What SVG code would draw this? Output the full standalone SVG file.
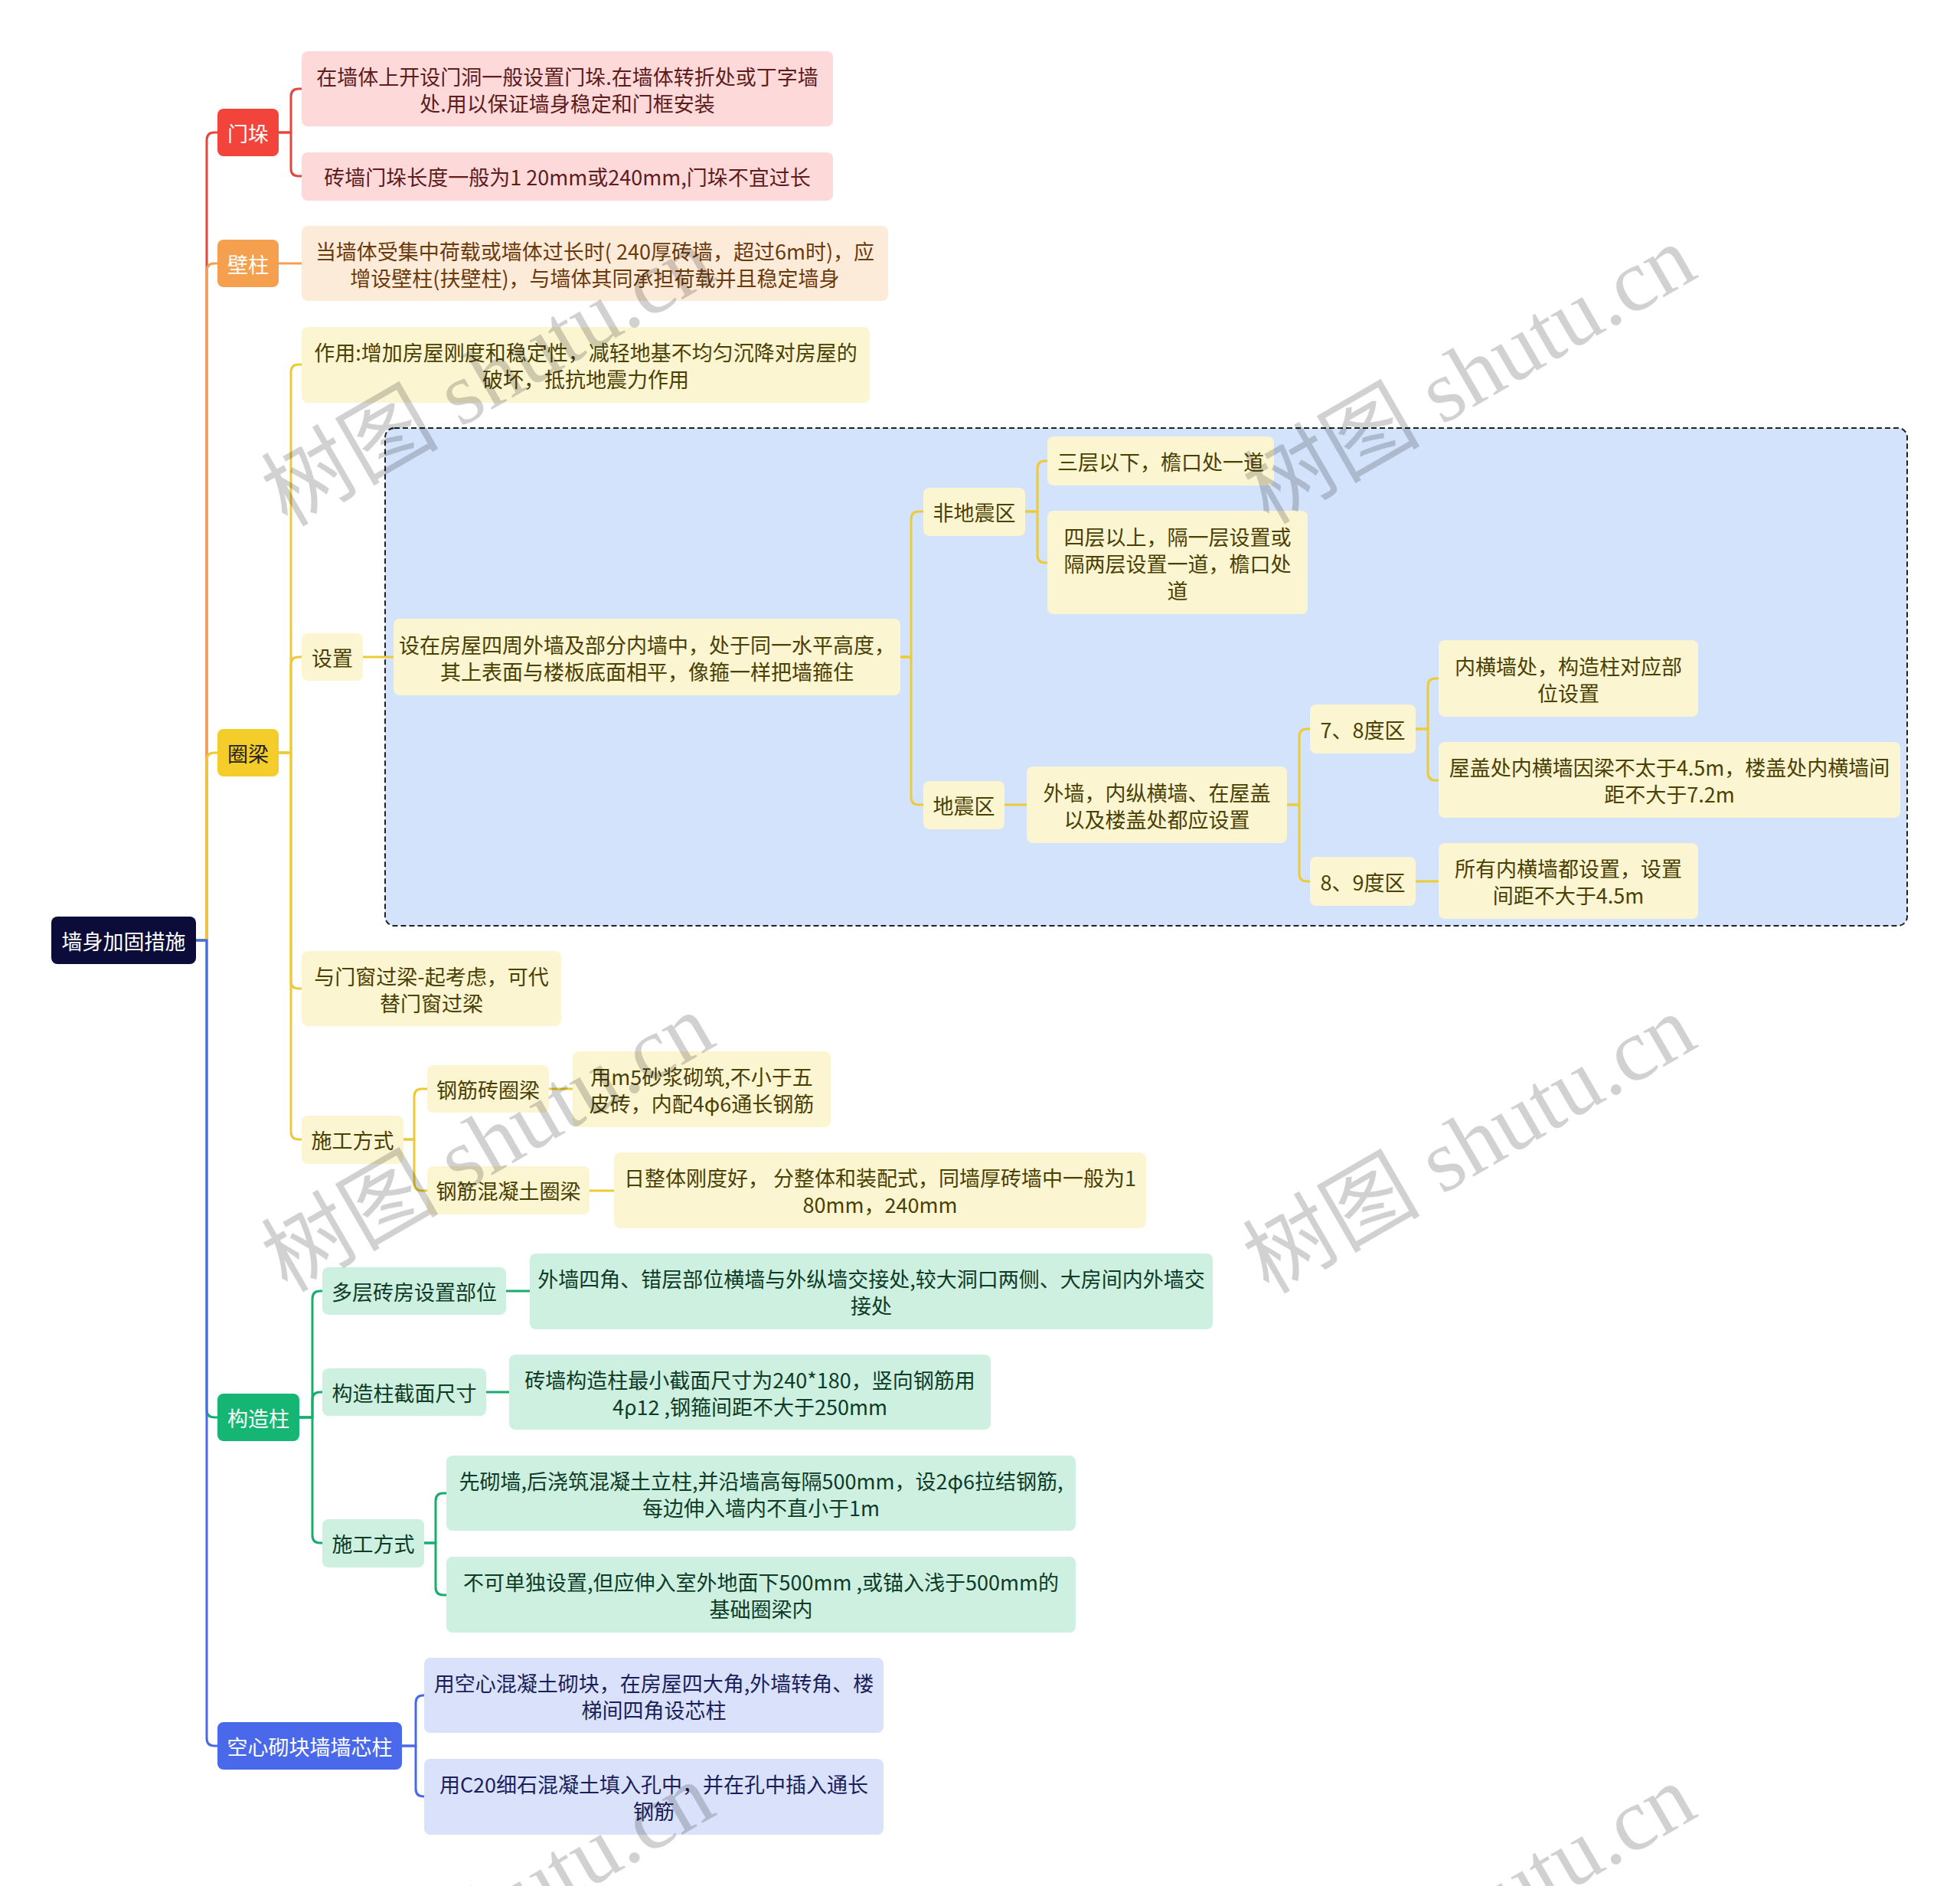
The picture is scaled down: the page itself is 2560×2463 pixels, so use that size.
<svg xmlns="http://www.w3.org/2000/svg" width="2560" height="2463" viewBox="0 0 2560 2463">
<style>
.t{font-family:"Noto Sans CJK SC","Liberation Sans",sans-serif;font-size:27px;text-anchor:middle;dominant-baseline:central}
.w{fill:#ffffff}
.tr{fill:#5e1c1c}.to{fill:#6b3a0c}.ty{fill:#4a4000}.tg{fill:#0e3b27}.tb{fill:#1a1e5c}
.fr{fill:#fdd9d9}.fo{fill:#fdebd9}.fy{fill:#fcf5d2}.fg{fill:#cdf0e0}.fb{fill:#dae2fb}
.c{fill:none;stroke-width:3;stroke-linejoin:round}
.cr{stroke:#e6463d}.co{stroke:#f2a04e}.cy{stroke:#eccb36}.cg{stroke:#17ad6c}.cb{stroke:#4a68ea}
.wm{font-size:116px;fill:#000;fill-opacity:0.18}
</style>
<rect x="0" y="0" width="2560" height="2463" fill="#ffffff"/>
<rect id="container" x="503" y="559" width="1988" height="650" rx="12" fill="#d4e3fc" stroke="#222" stroke-width="2" stroke-dasharray="7 4"/>
<g id="connectors">
<path class="c cr" d="M256 1228 H270 V183 Q270 173 280 173 H284"/>
<path class="c co" d="M256 1228 H270 V354 Q270 344 280 344 H284"/>
<path class="c cy" d="M256 1228 H270 V993 Q270 983 280 983 H284"/>
<path class="c cg" d="M256 1228 H270 V1841 Q270 1851 280 1851 H284"/>
<path class="c cb" d="M256 1228 H270 V2270 Q270 2280 280 2280 H284"/>
<path class="c cr" d="M364 173 H380 V126 Q380 116 390 116 H394"/>
<path class="c cr" d="M364 173 H380 V220 Q380 230 390 230 H394"/>
<path class="c co" d="M364 344 H394"/>
<path class="c cy" d="M364 983 H380 V486 Q380 476 390 476 H394"/>
<path class="c cy" d="M364 983 H380 V868 Q380 858 390 858 H394"/>
<path class="c cy" d="M364 983 H380 V1281 Q380 1291 390 1291 H394"/>
<path class="c cy" d="M364 983 H380 V1478 Q380 1488 390 1488 H394"/>
<path class="c cy" d="M474 858 H514"/>
<path class="c cy" d="M1176 858 H1190 V678 Q1190 668 1200 668 H1206"/>
<path class="c cy" d="M1176 858 H1190 V1041 Q1190 1051 1200 1051 H1206"/>
<path class="c cy" d="M1339 668 H1355 V612 Q1355 602 1365 602 H1368"/>
<path class="c cy" d="M1339 668 H1355 V725 Q1355 735 1365 735 H1368"/>
<path class="c cy" d="M1312 1051 H1341"/>
<path class="c cy" d="M1681 1051 H1697 V962 Q1697 952 1707 952 H1711"/>
<path class="c cy" d="M1681 1051 H1697 V1141 Q1697 1151 1707 1151 H1711"/>
<path class="c cy" d="M1849 952 H1865 V896 Q1865 886 1875 886 H1879"/>
<path class="c cy" d="M1849 952 H1865 V1009 Q1865 1019 1875 1019 H1879"/>
<path class="c cy" d="M1849 1151 H1879"/>
<path class="c cy" d="M527 1488 H541 V1432 Q541 1422 551 1422 H558"/>
<path class="c cy" d="M527 1488 H541 V1545 Q541 1555 551 1555 H558"/>
<path class="c cy" d="M717 1422 H748"/>
<path class="c cy" d="M770 1555 H802"/>
<path class="c cg" d="M391 1851 H408 V1696 Q408 1686 418 1686 H421"/>
<path class="c cg" d="M391 1851 H408 V1828 Q408 1818 418 1818 H421"/>
<path class="c cg" d="M391 1851 H408 V2005 Q408 2015 418 2015 H421"/>
<path class="c cg" d="M661 1686 H692"/>
<path class="c cg" d="M635 1818 H665"/>
<path class="c cg" d="M554 2015 H569 V1960 Q569 1950 579 1950 H583"/>
<path class="c cg" d="M554 2015 H569 V2073 Q569 2083 579 2083 H583"/>
<path class="c cb" d="M525 2280 H543 V2224 Q543 2214 553 2214 H554"/>
<path class="c cb" d="M525 2280 H543 V2336 Q543 2346 553 2346 H554"/>
</g>
<g id="root"><rect x="67" y="1197" width="189" height="62" rx="8" fill="#0c0c3a"/><text class="t w" x="161.5" y="1228">墙身加固措施</text></g>
<g id="n-mendu"><rect x="284" y="142" width="80" height="62" rx="8" fill="#f2443a"/><text class="t w" x="324" y="173">门垛</text></g>
<g id="n-bizhu"><rect x="284" y="313" width="80" height="62" rx="8" fill="#f5a04e"/><text class="t w" x="324" y="344">壁柱</text></g>
<g id="n-quanliang"><rect x="284" y="952" width="80" height="62" rx="8" fill="#f4cd2b"/><text class="t" fill="#222" x="324" y="983">圈梁</text></g>
<g id="n-gouzaozhu"><rect x="284" y="1820" width="107" height="62" rx="8" fill="#15b673"/><text class="t w" x="337.5" y="1851">构造柱</text></g>
<g id="n-kongxin"><rect x="284" y="2249" width="241" height="62" rx="8" fill="#4a68ea"/><text class="t w" x="404.5" y="2280">空心砌块墙墙芯柱</text></g>
<g id="a1"><rect class="fr" x="394" y="67" width="694" height="98" rx="8"/><text class="t tr"><tspan x="741" y="98.5">在墙体上开设门洞一般设置门垛.在墙体转折处或丁字墙</tspan><tspan x="741" y="133.5">处.用以保证墙身稳定和门框安装</tspan></text></g>
<g id="a2"><rect class="fr" x="394" y="199" width="694" height="63" rx="8"/><text class="t tr" x="741" y="230.5">砖墙门垛长度一般为1 20mm或240mm,门垛不宜过长</text></g>
<g id="b1"><rect class="fo" x="394" y="295" width="766" height="98" rx="8"/><text class="t to"><tspan x="777" y="326.5">当墙体受集中荷载或墙体过长时( 240厚砖墙，超过6m时)，应</tspan><tspan x="777" y="361.5">增设壁柱(扶壁柱)，与墙体其同承担荷载并且稳定墙身</tspan></text></g>
<g id="c1"><rect class="fy" x="394" y="427" width="742" height="99" rx="8"/><text class="t ty"><tspan x="765" y="459">作用:增加房屋刚度和稳定性，减轻地基不均匀沉降对房屋的</tspan><tspan x="765" y="494">破坏，抵抗地震力作用</tspan></text></g>
<g id="c2"><rect class="fy" x="394" y="827" width="80" height="62" rx="8"/><text class="t ty" x="434" y="858">设置</text></g>
<g id="c3"><rect class="fy" x="394" y="1242" width="339" height="98" rx="8"/><text class="t ty"><tspan x="563.5" y="1273.5">与门窗过梁-起考虑，可代</tspan><tspan x="563.5" y="1308.5">替门窗过梁</tspan></text></g>
<g id="c4"><rect class="fy" x="394" y="1457" width="133" height="63" rx="8"/><text class="t ty" x="460.5" y="1488.5">施工方式</text></g>
<g id="d1"><rect class="fy" x="514" y="808" width="662" height="100" rx="8"/><text class="t ty"><tspan x="845" y="840.5">设在房屋四周外墙及部分内墙中，处于同一水平高度，</tspan><tspan x="845" y="875.5">其上表面与楼板底面相平，像箍一样把墙箍住</tspan></text></g>
<g id="e1"><rect class="fy" x="1206" y="637" width="133" height="63" rx="8"/><text class="t ty" x="1272.5" y="668.5">非地震区</text></g>
<g id="e2"><rect class="fy" x="1206" y="1020" width="106" height="63" rx="8"/><text class="t ty" x="1259" y="1051.5">地震区</text></g>
<g id="f1"><rect class="fy" x="1368" y="570" width="296" height="64" rx="8"/><text class="t ty" x="1516" y="602">三层以下，檐口处一道</text></g>
<g id="f2"><rect class="fy" x="1368" y="667" width="340" height="135" rx="8"/><text class="t ty"><tspan x="1538" y="699.5">四层以上，隔一层设置或</tspan><tspan x="1538" y="734.5">隔两层设置一道，檐口处</tspan><tspan x="1538" y="769.5">道</tspan></text></g>
<g id="f3"><rect class="fy" x="1341" y="1001" width="340" height="100" rx="8"/><text class="t ty"><tspan x="1511" y="1033.5">外墙，内纵横墙、在屋盖</tspan><tspan x="1511" y="1068.5">以及楼盖处都应设置</tspan></text></g>
<g id="g1"><rect class="fy" x="1711" y="920" width="138" height="64" rx="8"/><text class="t ty" x="1780" y="952">7、8度区</text></g>
<g id="g2"><rect class="fy" x="1711" y="1119" width="138" height="64" rx="8"/><text class="t ty" x="1780" y="1151">8、9度区</text></g>
<g id="h1"><rect class="fy" x="1879" y="836" width="339" height="100" rx="8"/><text class="t ty"><tspan x="2048.5" y="868.5">内横墙处，构造柱对应部</tspan><tspan x="2048.5" y="903.5">位设置</tspan></text></g>
<g id="h2"><rect class="fy" x="1879" y="969" width="603" height="99" rx="8"/><text class="t ty"><tspan x="2180.5" y="1001">屋盖处内横墙因梁不太于4.5m，楼盖处内横墙间</tspan><tspan x="2180.5" y="1036">距不大于7.2m</tspan></text></g>
<g id="h3"><rect class="fy" x="1879" y="1101" width="339" height="99" rx="8"/><text class="t ty"><tspan x="2048.5" y="1133">所有内横墙都设置，设置</tspan><tspan x="2048.5" y="1168">间距不大于4.5m</tspan></text></g>
<g id="i1"><rect class="fy" x="558" y="1391" width="159" height="62" rx="8"/><text class="t ty" x="637.5" y="1422">钢筋砖圈梁</text></g>
<g id="i2"><rect class="fy" x="558" y="1523" width="212" height="63" rx="8"/><text class="t ty" x="664" y="1554.5">钢筋混凝土圈梁</text></g>
<g id="j1"><rect class="fy" x="748" y="1373" width="337" height="99" rx="8"/><text class="t ty"><tspan x="916.5" y="1405">用m5砂浆砌筑,不小于五</tspan><tspan x="916.5" y="1440">皮砖，内配4φ6通长钢筋</tspan></text></g>
<g id="j2"><rect class="fy" x="802" y="1505" width="695" height="99" rx="8"/><text class="t ty"><tspan x="1149.5" y="1537">日整体刚度好， 分整体和装配式，同墙厚砖墙中一般为1</tspan><tspan x="1149.5" y="1572">80mm，240mm</tspan></text></g>
<g id="k1"><rect class="fg" x="421" y="1655" width="240" height="62" rx="8"/><text class="t tg" x="541" y="1686">多层砖房设置部位</text></g>
<g id="k2"><rect class="fg" x="421" y="1787" width="214" height="62" rx="8"/><text class="t tg" x="528" y="1818">构造柱截面尺寸</text></g>
<g id="k3"><rect class="fg" x="421" y="1984" width="133" height="63" rx="8"/><text class="t tg" x="487.5" y="2015.5">施工方式</text></g>
<g id="l1"><rect class="fg" x="692" y="1637" width="892" height="99" rx="8"/><text class="t tg"><tspan x="1138" y="1669">外墙四角、错层部位横墙与外纵墙交接处,较大洞口两侧、大房间内外墙交</tspan><tspan x="1138" y="1704">接处</tspan></text></g>
<g id="l2"><rect class="fg" x="665" y="1769" width="629" height="98" rx="8"/><text class="t tg"><tspan x="979.5" y="1800.5">砖墙构造柱最小截面尺寸为240*180，竖向钢筋用</tspan><tspan x="979.5" y="1835.5">4ρ12 ,钢箍间距不大于250mm</tspan></text></g>
<g id="l3"><rect class="fg" x="583" y="1901" width="822" height="98" rx="8"/><text class="t tg"><tspan x="994" y="1932.5">先砌墙,后浇筑混凝土立柱,并沿墙高每隔500mm，设2φ6拉结钢筋,</tspan><tspan x="994" y="1967.5">每边伸入墙内不直小于1m</tspan></text></g>
<g id="l4"><rect class="fg" x="583" y="2033" width="822" height="99" rx="8"/><text class="t tg"><tspan x="994" y="2065">不可单独设置,但应伸入室外地面下500mm ,或锚入浅于500mm的</tspan><tspan x="994" y="2100">基础圈梁内</tspan></text></g>
<g id="m1"><rect class="fb" x="554" y="2165" width="600" height="98" rx="8"/><text class="t tb"><tspan x="854" y="2196.5">用空心混凝土砌块，在房屋四大角,外墙转角、楼</tspan><tspan x="854" y="2231.5">梯间四角设芯柱</tspan></text></g>
<g id="m2"><rect class="fb" x="554" y="2297" width="600" height="99" rx="8"/><text class="t tb"><tspan x="854" y="2329">用C20细石混凝土填入孔中，并在孔中插入通长</tspan><tspan x="854" y="2364">钢筋</tspan></text></g>
<g id="watermarks">
<text class="wm" transform="translate(375,689) rotate(-30)"><tspan font-family="Noto Sans CJK SC, sans-serif">树图</tspan><tspan font-family="Liberation Serif, serif"> shutu.cn</tspan></text>
<text class="wm" transform="translate(1657,686) rotate(-30)"><tspan font-family="Noto Sans CJK SC, sans-serif">树图</tspan><tspan font-family="Liberation Serif, serif"> shutu.cn</tspan></text>
<text class="wm" transform="translate(375,1689) rotate(-30)"><tspan font-family="Noto Sans CJK SC, sans-serif">树图</tspan><tspan font-family="Liberation Serif, serif"> shutu.cn</tspan></text>
<text class="wm" transform="translate(1657,1691) rotate(-30)"><tspan font-family="Noto Sans CJK SC, sans-serif">树图</tspan><tspan font-family="Liberation Serif, serif"> shutu.cn</tspan></text>
<text class="wm" transform="translate(375,2694) rotate(-30)"><tspan font-family="Noto Sans CJK SC, sans-serif">树图</tspan><tspan font-family="Liberation Serif, serif"> shutu.cn</tspan></text>
<text class="wm" transform="translate(1657,2696) rotate(-30)"><tspan font-family="Noto Sans CJK SC, sans-serif">树图</tspan><tspan font-family="Liberation Serif, serif"> shutu.cn</tspan></text>
</g>
</svg>
